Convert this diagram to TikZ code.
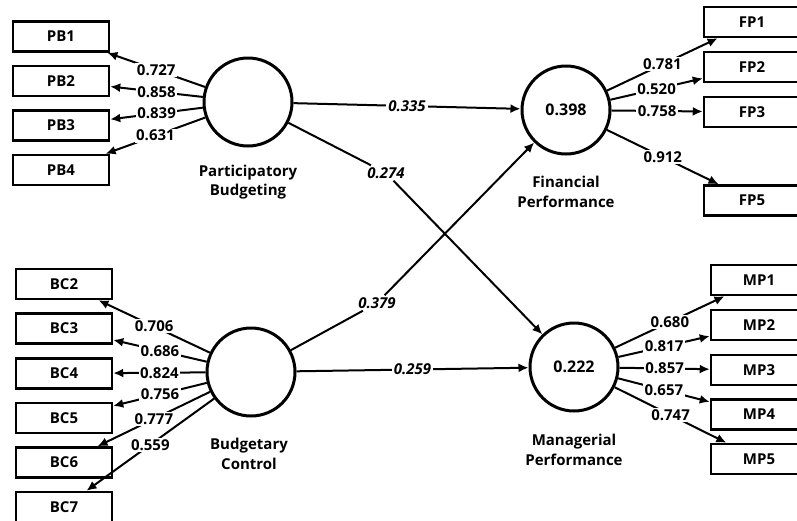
\documentclass[tikz,border=0pt]{standalone}
\usepackage{fontspec}
\setmainfont{Open Sans}
\usetikzlibrary{arrows.meta}
\begin{document}
\begin{tikzpicture}[x=1pt,y=-1pt,
  every node/.style={font=\bfseries\fontsize{15}{17}\selectfont},
  ind/.style={draw, line width=2.5pt, minimum width=96pt, minimum height=30pt, inner sep=0pt},
  lat/.style={draw, circle, line width=3pt, minimum size=88pt, inner sep=0pt, font=\bfseries\fontsize{16}{18}\selectfont},
  ln/.style={line width=2pt},
  ld/.style={line width=2pt, -{Latex[length=10pt,width=9pt]}},
  lab/.style={fill=white, inner sep=1.5pt},
  coef/.style={font=\bfseries\itshape\fontsize{15}{17}\selectfont, fill=white, inner sep=2pt},
  lvname/.style={align=center, font=\bfseries\fontsize{15}{19.5}\selectfont}
]
\useasboundingbox (0,0) rectangle (797,520);

% latent variables
\node[lat] (PB) at (248,102) {};
\node[lat] (BC) at (251,372) {};
\node[lat] (FP) at (566,110) {0.398};
\node[lat] (MP) at (574,367) {0.222};

\node[lvname] (nPB) at (248,182) {Participatory\\Budgeting};
\node[lvname] (nBC) at (249,454) {Budgetary\\Control};
\node[lvname] (nFP) at (566,192) {Financial\\Performance};
\node[lvname] (nMP) at (574,450) {Managerial\\Performance};

% indicators
\node[ind] (PB1) at (61,36.5) {PB1};
\node[ind] (PB2) at (61,81) {PB2};
\node[ind] (PB3) at (61,125.5) {PB3};
\node[ind] (PB4) at (61,170) {PB4};

\node[ind] (BC2) at (64,284) {BC2};
\node[ind] (BC3) at (64,328.5) {BC3};
\node[ind] (BC4) at (64,373.5) {BC4};
\node[ind] (BC5) at (64,418) {BC5};
\node[ind] (BC6) at (64,462.5) {BC6};
\node[ind] (BC7) at (64,507) {BC7};

\node[ind] (FP1) at (752,22) {FP1};
\node[ind] (FP2) at (752,67) {FP2};
\node[ind] (FP3) at (752,112) {FP3};
\node[ind] (FP5) at (752,200.5) {FP5};

\node[ind] (MP1) at (759,280) {MP1};
\node[ind] (MP2) at (759,325) {MP2};
\node[ind] (MP3) at (759,370) {MP3};
\node[ind] (MP4) at (759,414.5) {MP4};
\node[ind] (MP5) at (759,459) {MP5};

% loadings
\foreach \i/\v in {1/0.727, 2/0.858, 3/0.839, 4/0.631}
  \draw[ld] (PB) -- node[lab]{\v} (PB\i);
\foreach \i/\v in {2/0.706, 3/0.686, 4/0.824, 5/0.756, 6/0.777, 7/0.559}
  \draw[ld] (BC) -- node[lab]{\v} (BC\i);
\foreach \i/\v in {1/0.781, 2/0.520, 3/0.758, 5/0.912}
  \draw[ld] (FP) -- node[lab]{\v} (FP\i);
\foreach \i/\v in {1/0.680, 2/0.817, 3/0.857, 4/0.657, 5/0.747}
  \draw[ld] (MP) -- node[lab]{\v} (MP\i);

% structural paths
\draw[ld] (PB) -- node[coef]{0.335} (FP);
\draw[ld] (BC) -- node[coef]{0.259} (MP);
\node[coef] (c274) at (386,173) {0.274};
\node[coef] (c379) at (377,303) {0.379};
\draw[ln] (PB) -- (c274);
\draw[ld] (c274) -- (MP);
\draw[ln] (BC) -- (c379);
\draw[ld] (c379) -- (FP);
\end{tikzpicture}
\end{document}
